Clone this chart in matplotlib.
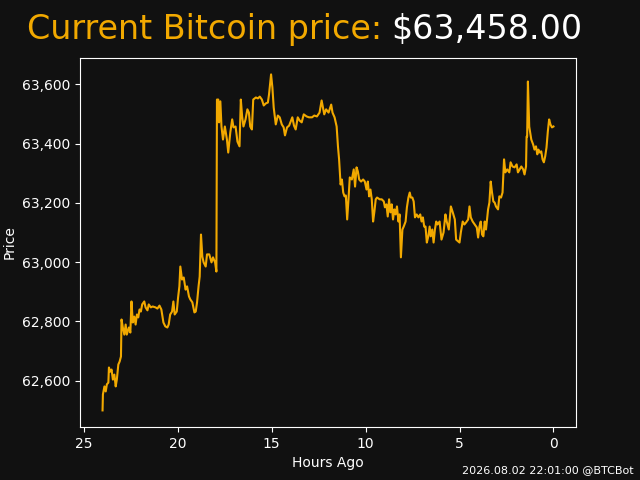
import matplotlib
matplotlib.use("Agg")
import matplotlib.pyplot as plt
import matplotlib.ticker as mticker

BG_COLOR = "#111111"
BTC_ORANGE = "#F2A900"
TEXT_COLOR = "#FFFFFF"

current_price = 63458.00
timestamp = "2026.08.02 22:01:00 @BTCBot"

hours_ago = [
    24.00, 23.98, 23.90, 23.83, 23.77, 23.69, 23.66, 23.59, 23.52, 23.45,
    23.37, 23.30, 23.24, 23.16, 23.09, 23.02, 22.99, 22.92, 22.84, 22.77,
    22.71, 22.60, 22.52, 22.46, 22.39, 22.31, 22.24, 22.17, 22.10, 22.03,
    21.96, 21.89, 21.78, 21.71, 21.61, 21.54, 21.43, 21.33, 21.18, 21.08,
    20.97, 20.87, 20.76, 20.66, 20.55, 20.48, 20.40, 20.30, 20.23, 20.16,
    20.05, 19.98, 19.91, 19.86, 19.77, 19.68, 19.58, 19.50, 19.40, 19.33,
    19.22, 19.11, 19.04, 18.97, 18.89, 18.83, 18.76, 18.69, 18.62, 18.51,
    18.44, 18.32, 18.20, 18.12, 18.01, 17.94, 17.91, 17.84, 17.80, 17.73,
    17.67, 17.59, 17.49, 17.38, 17.31, 17.20, 17.10, 17.03, 16.92, 16.82,
    16.71, 16.64, 16.57, 16.50, 16.39, 16.29, 16.21, 16.14, 16.05, 15.98,
    15.84, 15.73, 15.63, 15.52, 15.42, 15.31, 15.20, 15.14, 15.03, 14.96,
    14.89, 14.78, 14.67, 14.57, 14.46, 14.36, 14.29, 14.18, 14.07, 13.97,
    13.90, 13.81, 13.72, 13.61, 13.51, 13.40, 13.29, 13.14, 13.01, 12.85,
    12.73, 12.59, 12.45, 12.34, 12.20, 12.10, 11.97, 11.83, 11.76, 11.65,
    11.54, 11.47, 11.41, 11.33, 11.26, 11.19, 11.12, 11.05, 10.98, 10.91,
    10.84, 10.73, 10.63, 10.56, 10.48, 10.41, 10.34, 10.24, 10.13, 10.04,
    9.95, 9.88, 9.81, 9.74, 9.67, 9.60, 9.53, 9.46, 9.39, 9.25,
    9.14, 9.03, 8.97, 8.89, 8.82, 8.75, 8.68, 8.61, 8.54, 8.47,
    8.40, 8.33, 8.25, 8.19, 8.12, 8.04, 7.97, 7.87, 7.80, 7.72,
    7.65, 7.59, 7.51, 7.44, 7.37, 7.28, 7.19, 7.09, 7.02, 6.95,
    6.88, 6.81, 6.74, 6.66, 6.59, 6.53, 6.45, 6.38, 6.31, 6.24,
    6.17, 6.06, 5.96, 5.85, 5.75, 5.68, 5.57, 5.46, 5.36, 5.25,
    5.18, 5.07, 5.00, 4.93, 4.83, 4.74, 4.65, 4.54, 4.47, 4.40,
    4.30, 4.19, 4.08, 4.01, 3.94, 3.87, 3.80, 3.73, 3.66, 3.59,
    3.48, 3.41, 3.34, 3.27, 3.20, 3.13, 3.06, 2.95, 2.88, 2.79,
    2.71, 2.63, 2.56, 2.46, 2.35, 2.28, 2.18, 2.07, 1.96, 1.89,
    1.80, 1.71, 1.61, 1.54, 1.46, 1.43, 1.40, 1.36, 1.33, 1.29,
    1.18, 1.08, 1.01, 0.93, 0.86, 0.80, 0.72, 0.65, 0.58, 0.51,
    0.44, 0.37, 0.30, 0.23, 0.16, 0.08, 0.00,
]

prices = [
    62499, 62553, 62580, 62563, 62587, 62593, 62644, 62630, 62637, 62603,
    62620, 62580, 62603, 62654, 62664, 62681, 62806, 62779, 62755, 62789,
    62755, 62779, 62762, 62867, 62796, 62816, 62789, 62823, 62813, 62840,
    62833, 62857, 62867, 62847, 62837, 62857, 62847, 62850, 62847, 62843,
    62853, 62840, 62796, 62783, 62779, 62789, 62823, 62833, 62867, 62823,
    62833, 62880, 62918, 62985, 62941, 62948, 62907, 62918, 62884, 62874,
    62864, 62830, 62833, 62864, 62918, 62951, 63093, 63019, 62999, 62985,
    63026, 63026, 62999, 63016, 62999, 62968, 63549, 63549, 63472, 63543,
    63458, 63414, 63458, 63414, 63370, 63438, 63482, 63455, 63458, 63407,
    63391, 63549, 63492, 63458, 63482, 63516, 63505, 63458, 63448, 63549,
    63556, 63553, 63559, 63549, 63529, 63536, 63539, 63566, 63634, 63590,
    63522, 63465, 63495, 63489, 63465, 63455, 63428, 63455, 63461, 63478,
    63489, 63461, 63448, 63489, 63478, 63472, 63499, 63492, 63489, 63489,
    63495, 63492, 63505, 63546, 63499, 63516, 63505, 63532, 63505, 63489,
    63458, 63391, 63347, 63262, 63279, 63235, 63222, 63225, 63144, 63212,
    63286, 63279, 63313, 63255, 63320, 63306, 63279, 63272, 63279, 63272,
    63245, 63272, 63222, 63245, 63212, 63137, 63171, 63212, 63218, 63212,
    63212, 63205, 63185, 63195, 63154, 63212, 63168, 63195, 63144, 63178,
    63161, 63188, 63137, 63161, 63016, 63110, 63120, 63137, 63185, 63218,
    63235, 63218, 63218, 63205, 63151, 63161, 63151, 63161, 63137, 63151,
    63120, 63120, 63066, 63087, 63120, 63087, 63110, 63066, 63110, 63137,
    63127, 63137, 63076, 63100, 63161, 63137, 63110, 63188, 63168, 63144,
    63076, 63070, 63066, 63100, 63137, 63127, 63134, 63144, 63188, 63151,
    63137, 63127, 63117, 63083, 63120, 63137, 63093, 63087, 63137, 63110,
    63178, 63201, 63272, 63235, 63205, 63201, 63188, 63178, 63222, 63218,
    63235, 63347, 63303, 63313, 63303, 63337, 63323, 63320, 63330, 63303,
    63313, 63323, 63313, 63296, 63323, 63424, 63424, 63610, 63539, 63458,
    63414, 63397, 63380, 63391, 63364, 63380, 63370, 63374, 63347, 63337,
    63357, 63387, 63441, 63482, 63465, 63455, 63458,
]

fig, ax = plt.subplots(figsize=(6.4, 4.8), dpi=100)
fig.patch.set_facecolor(BG_COLOR)
ax.set_facecolor(BG_COLOR)

ax.plot(hours_ago, prices, color=BTC_ORANGE, linewidth=1.5)
ax.invert_xaxis()

ax.set_xlabel("Hours Ago", color=TEXT_COLOR)
ax.set_ylabel("Price", color=TEXT_COLOR)
ax.tick_params(colors=TEXT_COLOR)
ax.yaxis.set_major_formatter(mticker.FuncFormatter(lambda y, _: f"{y:,.0f}"))
for spine in ax.spines.values():
    spine.set_color(TEXT_COLOR)

# Two-colour title
fig.text(27 / 640, 1 - 29 / 480, "Current Bitcoin price:", color=BTC_ORANGE,
         fontsize=24, ha="left", va="center")
fig.text(391 / 640, 1 - 29 / 480, f"${current_price:,.2f}", color=TEXT_COLOR,
         fontsize=24, ha="left", va="center")

fig.text(634 / 640, 1 - 470 / 480, timestamp, color=TEXT_COLOR,
         fontsize=8, ha="right", va="center")

plt.savefig("out.png", dpi=100, facecolor=BG_COLOR)
plt.close()
